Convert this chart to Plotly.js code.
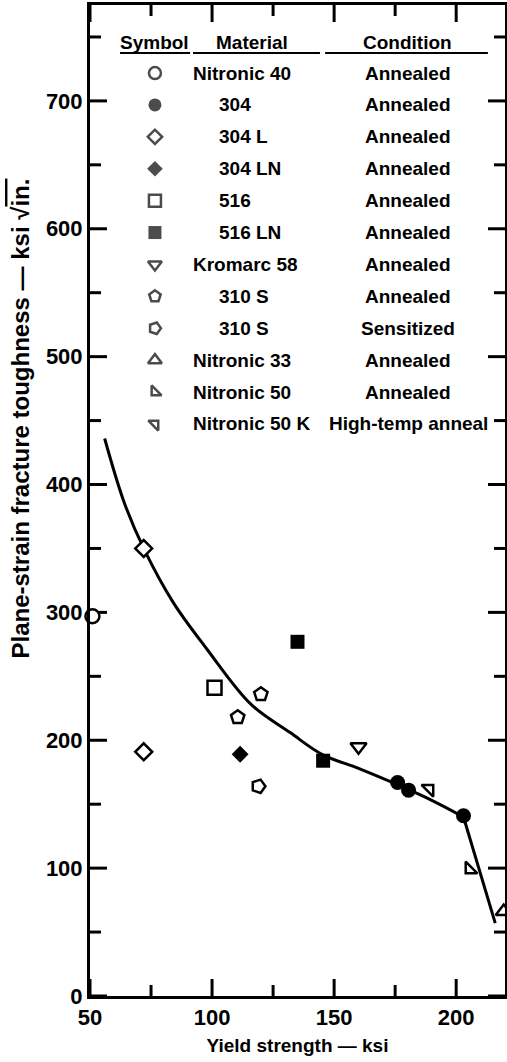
<!DOCTYPE html>
<html>
<head>
<meta charset="utf-8">
<script src="https://cdn.plot.ly/plotly-3.0.1.min.js"></script>
<style>
html,body{margin:0;padding:0;background:#fff;}
#chart{width:507px;height:1062px;}
</style>
</head>
<body>
<div id="chart"></div>
<script>
// ---------- data ----------
const materials  = ['Nitronic 40','304','304 L','304 LN','516','516 LN','Kromarc 58','310 S','310 S','Nitronic 33','Nitronic 50','Nitronic 50 K'];
const conditions = ['Annealed','Annealed','Annealed','Annealed','Annealed','Annealed','Annealed','Annealed','Sensitized','Annealed','Annealed','High-temp anneal'];

const n40X   = [51];            const n40Y   = [297];
const s304X  = [176, 180.5, 203]; const s304Y = [167, 161, 141];
const s304LX = [72, 72];        const s304LY = [350, 191];
const s304LNX= [111.5];         const s304LNY= [189];
const s516X  = [101];           const s516Y  = [241];
const s516LNX= [135, 145.5];    const s516LNY= [277, 184];
const kromX  = [160];           const kromY  = [195];
const s310AX = [110.5, 120];    const s310AY = [218, 236];
const s310SX = [119];           const s310SY = [164];
const n33X   = [219.5];         const n33Y   = [66];
const n50X   = [205.5];         const n50Y   = [99];
const n50KX  = [189];           const n50KY  = [162];

const curveX = [56, 64, 72, 84, 98, 116, 132, 145, 160, 175, 190, 203];
const curveY = [436, 386, 350, 308, 271, 228, 206, 189, 178, 166, 153, 140];
const kinkX  = [203, 216];
const kinkY  = [140, 57];

const xTicks = [50, 100, 150, 200];
const xMinor = [75, 125, 175];
const yTicks = [0, 100, 200, 300, 400, 500, 600, 700];
const yMinor = [50, 150, 250, 350, 450, 550, 650, 750];

// ---------- styles / layout of the key table (in axis units) ----------
const seriesX = [n40X, s304X, s304LX, s304LNX, s516X, s516LNX, kromX, s310AX, s310SX, n33X, n50X, n50KX];
const seriesY = [n40Y, s304Y, s304LY, s304LNY, s516Y, s516LNY, kromY, s310AY, s310SY, n33Y, n50Y, n50KY];
const symbolOf = ['circle','circle','diamond','diamond','square','square','triangle-down','pentagon','pentagon','triangle-up','triangle-sw','triangle-ne'];
const filledOf = [false,true,false,true,false,true,false,false,false,false,false,false];
const angleOf  = [0,0,0,0,0,0,0,0,90,0,0,0];
const sizeOf   = [14,15,13,13,14,14,14,14,14,14,13,13];
const legSize  = [12,13,11,12,12,13,12,12,12,12,11,11];

const X_RANGE = [50, 220], Y_RANGE = [0, 775];
const W = 507, H = 1062, M = {l: 90, r: 2, t: 5, b: 66};
const KEY_TOP = 721.8, KEY_STEP = 24.95;           // row 0 centre and spacing (y units)
const KEY_SYM_X = 76.6, KEY_MAT_X_NUM = 102.0, KEY_MAT_X_TXT = 91.4, KEY_COND_X = 180.3;
const KEY_HEAD_Y = 745.3, KEY_LINE_Y = 737.5;
const MAJOR_LEN = 17, MINOR_LEN = 11;               // tick lengths in px

const FONT = 'Liberation Sans, Arial, Helvetica, sans-serif';
const BLACK = '#000';

const traces = [];

// inward ticks on all four sides (built from the tick arrays, drawn through the axes)
const pxPerX = (W - M.l - M.r) / (X_RANGE[1] - X_RANGE[0]);
const pxPerY = (H - M.t - M.b) / (Y_RANGE[1] - Y_RANGE[0]);
const tickX = [], tickY = [];
function addYTick(v, len) {
  const d = len / pxPerX;
  tickX.push(X_RANGE[0], X_RANGE[0] + d, null, X_RANGE[1] - d, X_RANGE[1], null);
  tickY.push(v, v, null, v, v, null);
}
function addXTick(v, len) {
  const d = len / pxPerY;
  tickX.push(v, v, null, v, v, null);
  tickY.push(Y_RANGE[0], Y_RANGE[0] + d, null, Y_RANGE[1] - d, Y_RANGE[1], null);
}
yTicks.forEach(v => addYTick(v, MAJOR_LEN));
yMinor.forEach(v => addYTick(v, MINOR_LEN));
xTicks.forEach(v => addXTick(v, MAJOR_LEN));
xMinor.forEach(v => addXTick(v, MINOR_LEN));
traces.push({x: tickX, y: tickY, mode: 'lines', type: 'scatter', connectgaps: false,
  line: {color: BLACK, width: 3}, hoverinfo: 'skip', showlegend: false});

traces.push({x: curveX, y: curveY, mode: 'lines', type: 'scatter', line: {color: BLACK, width: 3, shape: 'spline', smoothing: 1}, hoverinfo: 'skip', showlegend: false});
traces.push({x: kinkX, y: kinkY, mode: 'lines', type: 'scatter', line: {color: BLACK, width: 3}, hoverinfo: 'skip', showlegend: false});

for (let i = 0; i < materials.length; i++) {
  traces.push({
    x: seriesX[i], y: seriesY[i], type: 'scatter', mode: 'markers',
    name: materials[i] + ' ' + conditions[i],
    cliponaxis: i === 9,
    marker: {symbol: symbolOf[i], size: sizeOf[i], angle: angleOf[i],
             color: filledOf[i] ? BLACK : '#fff',
             line: {color: BLACK, width: filledOf[i] ? 0 : 2.5}},
    showlegend: false
  });
}

// key symbols
const rows = materials.map((m, i) => i);
traces.push({
  x: rows.map(() => KEY_SYM_X), y: rows.map(i => KEY_TOP - i * KEY_STEP),
  type: 'scatter', mode: 'markers', hoverinfo: 'skip', showlegend: false,
  marker: {symbol: symbolOf, size: legSize, angle: angleOf,
           color: filledOf.map(f => f ? BLACK : '#fff'),
           line: {color: BLACK, width: filledOf.map(f => f ? 0 : 2.5)}}
});

const tf = {family: FONT, size: 19, color: BLACK, weight: 'bold'};
const annotations = [];
const hd = (x, t) => ({xref: 'x', yref: 'y', x: x, y: KEY_HEAD_Y, text: t, showarrow: false, font: tf, xanchor: 'center', yanchor: 'middle'});
annotations.push(hd(76.6, 'Symbol'), hd(116.4, 'Material'), hd(179.9, 'Condition'));
for (let i = 0; i < materials.length; i++) {
  const digit = /^[0-9]/.test(materials[i]);
  const yy = KEY_TOP - i * KEY_STEP;
  annotations.push({xref: 'x', yref: 'y', x: digit ? KEY_MAT_X_NUM : KEY_MAT_X_TXT, y: yy, text: materials[i], showarrow: false, font: tf, xanchor: 'left', yanchor: 'middle'});
  annotations.push({xref: 'x', yref: 'y', x: KEY_COND_X, y: yy, text: conditions[i], showarrow: false, font: tf, xanchor: 'center', yanchor: 'middle'});
}
// y-axis title
annotations.push({xref: 'paper', yref: 'paper', x: -0.168, y: 0.583, textangle: -90,
  text: 'Plane-strain fracture toughness — ksi √<span style="text-decoration:overline">in.</span>',
  showarrow: false, font: {family: FONT, size: 24, color: BLACK, weight: 'bold'}, xanchor: 'center', yanchor: 'middle'});

const shapes = [
  {type: 'line', xref: 'x', yref: 'y', x0: 62.3, x1: 91.0, y0: KEY_LINE_Y, y1: KEY_LINE_Y, line: {color: BLACK, width: 2}},
  {type: 'line', xref: 'x', yref: 'y', x0: 92.2, x1: 144.2, y0: KEY_LINE_Y, y1: KEY_LINE_Y, line: {color: BLACK, width: 2}},
  {type: 'line', xref: 'x', yref: 'y', x0: 146.3, x1: 213.0, y0: KEY_LINE_Y, y1: KEY_LINE_Y, line: {color: BLACK, width: 2}}
];

const tickFont = {family: FONT, size: 22, color: BLACK, weight: 'bold'};
const layout = {
  width: W, height: H,
  margin: M,
  showlegend: false,
  xaxis: {
    range: X_RANGE, tickmode: 'array', tickvals: xTicks, ticktext: xTicks.map(String),
    ticks: '', showline: true, linewidth: 3, linecolor: BLACK, mirror: true,
    showgrid: false, zeroline: false, tickfont: tickFont,
    title: {text: 'Yield strength — ksi', font: {family: FONT, size: 19, color: BLACK, weight: 'bold'}, standoff: 10}
  },
  yaxis: {
    range: Y_RANGE, tickmode: 'array', tickvals: yTicks, ticktext: yTicks.map(String),
    ticks: '', showline: true, linewidth: 3, linecolor: BLACK, mirror: true,
    showgrid: false, zeroline: false, tickfont: tickFont
  },
  annotations: annotations,
  shapes: shapes
};

Plotly.newPlot('chart', traces, layout, {staticPlot: true});
</script>
</body>
</html>
